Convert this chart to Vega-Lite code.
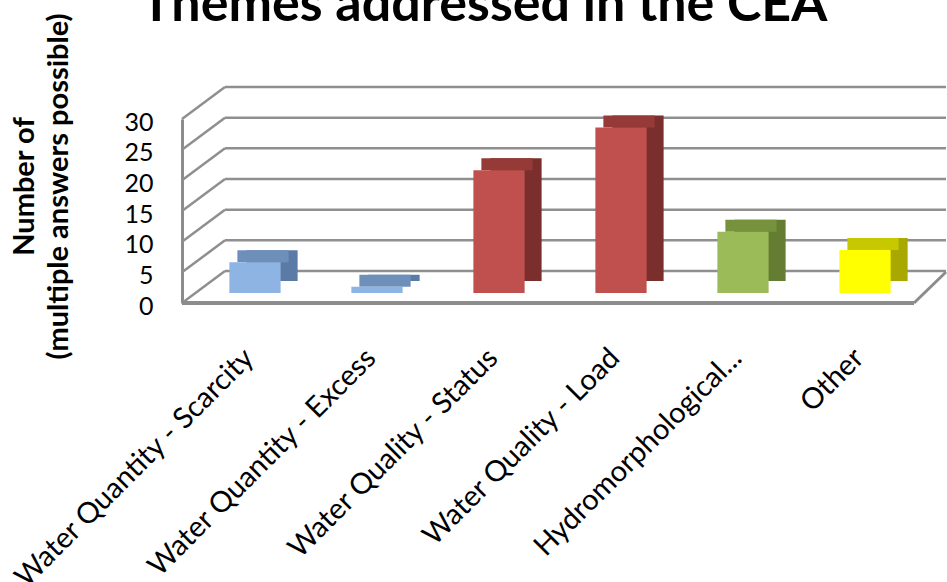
{
  "$schema": "https://vega.github.io/schema/vega-lite/v6.json",
  "autosize": {"type": "none"},
  "padding": {"left": 194, "top": 119, "right": 21, "bottom": 279},
  "width": 732,
  "height": 184,
  "background": "white",
  "config": {
    "view": {"stroke": null},
    "font": "Lato",
    "axisX": {"labelAngle": -45, "labelAlign": "right", "labelBaseline": "middle", "labelFont": "Lato", "labelFontSize": 29, "labelColor": "black", "labelPadding": 50, "labelOffset": -6, "ticks": false, "domain": false, "grid": false, "labelOverlap": false, "labelLimit": 0},
    "axisY": {"domain": true, "domainColor": "#8c8c8c", "domainWidth": 3, "ticks": false, "grid": false, "offset": 12, "labelPadding": 29, "labelOffset": 3, "labelFont": "Lato", "labelFontSize": 25, "labelColor": "black", "values": [0, 5, 10, 15, 20, 25, 30], "titleFont": "Lato", "titleFontSize": 29, "titleFontWeight": "bold", "titleColor": "black", "titleAngle": -90, "titleX": -158, "titleY": 67, "titleAlign": "center", "titleBaseline": "middle", "titleLineHeight": 34}
  },
  "title": {"text": "Themes addressed in the CEA", "font": "Lato", "fontSize": 52, "fontWeight": "bold", "color": "black", "anchor": "middle", "frame": "group", "baseline": "alphabetic", "offset": -60, "dx": -76},
  "datasets": {
    "themes": [
      {"theme": "Water Quantity - Scarcity", "count": 5},
      {"theme": "Water Quantity - Excess", "count": 1},
      {"theme": "Water Quality - Status", "count": 20},
      {"theme": "Water Quality - Load", "count": 27},
      {"theme": "Hydromorphological...", "count": 10},
      {"theme": "Other", "count": 7}
    ],
    "grid": [
      {"count": 0}, {"count": 5}, {"count": 10}, {"count": 15}, {"count": 20}, {"count": 25}, {"count": 30}
    ]
  },
  "layer": [
    {
      "data": {"name": "grid"},
      "mark": {"type": "rule", "color": "#8f8f8f", "strokeWidth": 2.5, "xOffset": -30, "x2Offset": 81, "yOffset": -32, "y2Offset": -32},
      "encoding": {
        "x": {"datum": "Water Quantity - Scarcity", "type": "nominal", "title": null,
              "scale": {"domain": ["Water Quantity - Scarcity", "Water Quantity - Excess", "Water Quality - Status", "Water Quality - Load", "Hydromorphological...", "Other"], "paddingInner": 0.58, "paddingOuter": 0.29}},
        "x2": {"datum": "Other"},
        "y": {"field": "count", "type": "quantitative", "scale": {"domain": [0, 30], "nice": false}, "title": ["Number of", "(multiple answers possible)"]},
        "y2": {"field": "count"}
      }
    },
    {
      "data": {"name": "grid"},
      "mark": {"type": "rule", "color": "#8f8f8f", "strokeWidth": 2.5, "xOffset": -73, "x2Offset": -30, "y2Offset": -32},
      "encoding": {
        "x": {"datum": "Water Quantity - Scarcity", "type": "nominal", "title": null},
        "x2": {"datum": "Water Quantity - Scarcity"},
        "y": {"field": "count", "type": "quantitative", "title": ["Number of", "(multiple answers possible)"]},
        "y2": {"field": "count"}
      }
    },
    {
      "data": {"name": "grid"},
      "transform": [{"filter": "datum.count == 0"}],
      "mark": {"type": "rule", "color": "#8c8c8c", "strokeWidth": 4, "xOffset": -73, "x2Offset": 49},
      "encoding": {
        "x": {"datum": "Water Quantity - Scarcity", "type": "nominal", "title": null},
        "x2": {"datum": "Other"},
        "y": {"field": "count", "type": "quantitative", "title": ["Number of", "(multiple answers possible)"]}
      }
    },
    {
      "data": {"name": "grid"},
      "transform": [{"filter": "datum.count == 0"}],
      "mark": {"type": "rule", "color": "#8c8c8c", "strokeWidth": 3, "xOffset": 49, "x2Offset": 81, "y2Offset": -31},
      "encoding": {
        "x": {"datum": "Other", "type": "nominal", "title": null},
        "x2": {"datum": "Other"},
        "y": {"field": "count", "type": "quantitative", "title": ["Number of", "(multiple answers possible)"]},
        "y2": {"field": "count"}
      }
    },
    {
      "data": {"name": "themes"},
      "mark": {"type": "bar", "xOffset": 17, "yOffset": -22, "y2Offset": -22},
      "encoding": {
        "x": {"field": "theme", "type": "nominal", "sort": null, "title": null},
        "y": {"field": "count", "type": "quantitative", "title": ["Number of", "(multiple answers possible)"]},
        "color": {"field": "theme", "type": "nominal", "legend": null,
                  "scale": {"domain": ["Water Quantity - Scarcity", "Water Quantity - Excess", "Water Quality - Status", "Water Quality - Load", "Hydromorphological...", "Other"],
                            "range": ["#5b7ba6", "#5b7ba6", "#7b2f2d", "#7b2f2d", "#647d33", "#a8a800"]}}
      }
    },
    {
      "data": {"name": "themes"},
      "mark": {"type": "bar", "xOffset": 8, "yOffset": -22, "y2Offset": -10},
      "encoding": {
        "x": {"field": "theme", "type": "nominal", "sort": null, "title": null},
        "y": {"field": "count", "type": "quantitative", "title": ["Number of", "(multiple answers possible)"]},
        "y2": {"field": "count"},
        "color": {"field": "theme", "type": "nominal", "legend": null,
                  "scale": {"domain": ["Water Quantity - Scarcity", "Water Quantity - Excess", "Water Quality - Status", "Water Quality - Load", "Hydromorphological...", "Other"],
                            "range": ["#6f8fbb", "#6f8fbb", "#953a37", "#953a37", "#76923c", "#c8c800"]}}
      }
    },
    {
      "data": {"name": "themes"},
      "mark": {"type": "bar", "yOffset": -10, "y2Offset": -10},
      "encoding": {
        "x": {"field": "theme", "type": "nominal", "sort": null, "title": null},
        "y": {"field": "count", "type": "quantitative", "title": ["Number of", "(multiple answers possible)"]},
        "color": {"field": "theme", "type": "nominal", "legend": null,
                  "scale": {"domain": ["Water Quantity - Scarcity", "Water Quantity - Excess", "Water Quality - Status", "Water Quality - Load", "Hydromorphological...", "Other"],
                            "range": ["#8eb4e3", "#8eb4e3", "#c0504d", "#c0504d", "#9bbb59", "#ffff00"]}}
      }
    }
  ],
  "resolve": {"scale": {"color": "independent"}}
}
